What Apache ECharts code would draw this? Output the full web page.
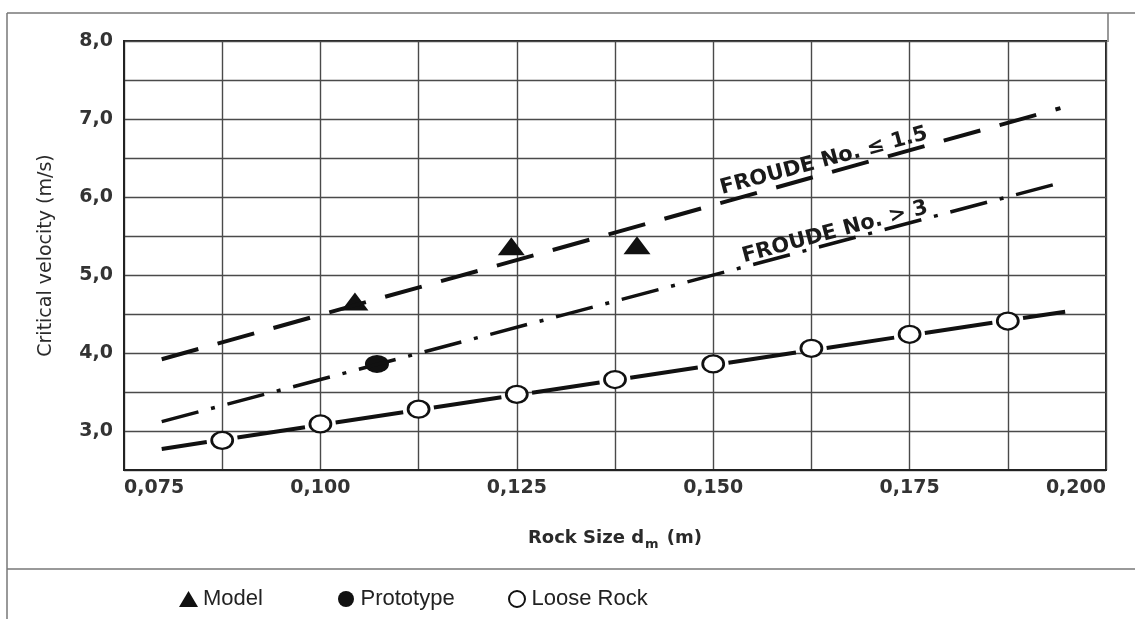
<!DOCTYPE html>
<html>
<head>
<meta charset="utf-8">
<script src="https://cdn.jsdelivr.net/npm/echarts@6/dist/echarts.min.js"></script>
<style>
  html, body { margin: 0; padding: 0; background: #fff; }
  #chart { width: 1135px; height: 619px; }
</style>
</head>
<body>
<div id="chart"></div>
<script>
// points (rock size in m, velocity in m/s)
var modelPts = [[0.1044, 4.66], [0.1243, 5.37], [0.1403, 5.38]];
var protoPts = [[0.1072, 3.86]];
var loosePts = [[0.0875, 2.88], [0.100, 3.09], [0.1125, 3.28], [0.125, 3.47], [0.1375, 3.66],
  [0.150, 3.86], [0.1625, 4.06], [0.175, 4.24], [0.1875, 4.41]];
// fitted lines: start and end point
var froudeLow = [[0.0798, 3.92], [0.1942, 7.14]];
var froudeHigh = [[0.0798, 3.12], [0.1945, 6.19]];
var looseFit = [[0.0798, 2.77], [0.1948, 4.53]];
// labels written along the two froude lines
var noteText = ['FROUDE No. ≤ 1.5', 'FROUDE No. > 3'];
var noteAt = [[0.1641, 6.46], [0.1655, 5.55]];
var legendNames = ['Model', 'Prototype', 'Loose Rock'];

var INK = '#111';
var BOLD = 'DejaVu Sans';

function chart () {
  const myChart = echarts.init(document.getElementById('chart'));

  const legendBase = {
    orient: 'horizontal',
    top: 583,
    itemWidth: 19,
    itemHeight: 16,
    selectedMode: false,
    textStyle: { fontFamily: 'Liberation Sans', fontSize: 22, color: '#222' }
  };

  const option = {
    backgroundColor: '#fff',
    animation: false,
    grid: {
      left: 124, right: 29, top: 41, bottom: 149,
      show: true, borderColor: '#222', borderWidth: 2
    },
    legend: [
      Object.assign({ data: [legendNames[0]], left: 174 }, legendBase),
      Object.assign({ data: [legendNames[1]], left: 333 }, legendBase),
      Object.assign({ data: [legendNames[2]], left: 503 }, legendBase)
    ],
    xAxis: {
      type: 'value',
      min: 0.075, max: 0.2, interval: 0.0125,
      name: 'Rock Size d{sub|m} (m)',
      nameLocation: 'middle',
      nameGap: 56,
      nameTextStyle: {
        fontFamily: BOLD, fontWeight: 'bold', fontSize: 18, color: '#2a2a2a',
        rich: { sub: { fontFamily: BOLD, fontWeight: 'bold', fontSize: 13, color: '#2a2a2a', padding: [12, 2, 0, 1] } }
      },
      axisLine: { show: true, lineStyle: { color: '#222', width: 2 } },
      axisTick: { show: false },
      splitLine: { show: true, lineStyle: { color: '#4a4a4a', width: 1.4 } },
      axisLabel: {
        margin: 9,
        fontFamily: BOLD, fontWeight: 'bold', fontSize: 19, color: '#333',
        alignMinLabel: 'left', alignMaxLabel: 'right',
        formatter: function (v) {
          var k = Math.round(v * 10000);
          return k % 250 === 0 ? (k / 10000).toFixed(3).replace('.', ',') : '';
        }
      }
    },
    yAxis: {
      type: 'value',
      min: 2.5, max: 8, interval: 0.5,
      name: 'Critical velocity (m/s)',
      nameLocation: 'middle',
      nameGap: 68,
      nameTextStyle: { fontFamily: 'DejaVu Sans', fontSize: 19, color: '#2a2a2a' },
      axisLine: { show: true, lineStyle: { color: '#222', width: 2 } },
      axisTick: { show: false },
      splitLine: { show: true, lineStyle: { color: '#4a4a4a', width: 1.4 } },
      axisLabel: {
        margin: 11,
        fontFamily: BOLD, fontWeight: 'bold', fontSize: 19, color: '#333',
        formatter: function (v) {
          return (Math.abs(v - Math.round(v)) < 1e-9 && v >= 3) ? v.toFixed(1).replace('.', ',') : '';
        }
      }
    },
    graphic: [
      // frame of the scanned figure
      { type: 'line', silent: true, shape: { x1: 7, y1: 13, x2: 1135, y2: 13 }, style: { stroke: '#777', lineWidth: 1.5 } },
      { type: 'line', silent: true, shape: { x1: 7, y1: 13, x2: 7, y2: 619 }, style: { stroke: '#777', lineWidth: 1.5 } },
      { type: 'line', silent: true, shape: { x1: 1108, y1: 13, x2: 1108, y2: 42 }, style: { stroke: '#777', lineWidth: 1.5 } },
      { type: 'line', silent: true, shape: { x1: 7, y1: 569, x2: 1135, y2: 569 }, style: { stroke: '#777', lineWidth: 1.5 } }
    ],
    series: [{
      id: 'froudeLow',
      type: 'line',
      data: froudeLow,
      symbol: 'none',
      silent: true,
      lineStyle: { color: INK, width: 4, type: [38, 20] }
    }, {
      id: 'froudeHigh',
      type: 'line',
      data: froudeHigh,
      symbol: 'none',
      silent: true,
      lineStyle: { color: INK, width: 3.5, type: [38, 13, 4, 13] }
    }, {
      id: 'looseFit',
      type: 'line',
      data: looseFit,
      symbol: 'none',
      silent: true,
      lineStyle: { color: INK, width: 4 }
    }, {
      id: 'notes',
      type: 'scatter',
      symbolSize: 0,
      silent: true,
      itemStyle: { opacity: 1 },
      data: noteAt.map(function (c, i) { return { value: c, name: noteText[i] }; }),
      label: {
        show: true,
        position: 'inside',
        rotate: 15,
        formatter: '{b}',
        fontFamily: BOLD, fontWeight: 'bold', fontSize: 21, color: '#1a1a1a',
        textBorderWidth: 0
      }
    }, {
      name: 'Loose Rock',
      type: 'scatter',
      data: loosePts,
      symbol: 'circle',
      symbolSize: [21, 17],
      itemStyle: { color: '#fff', borderColor: INK, borderWidth: 2.5, opacity: 1 }
    }, {
      name: 'Model',
      type: 'scatter',
      data: modelPts,
      symbol: 'triangle',
      symbolSize: [27, 18],
      itemStyle: { color: INK, opacity: 1 }
    }, {
      name: 'Prototype',
      type: 'scatter',
      data: protoPts,
      symbol: 'circle',
      symbolSize: [24, 18],
      itemStyle: { color: INK, opacity: 1 }
    }]
  };
  myChart.setOption(option);

  // the loose rock line breaks around each circle: set dash period to the circle spacing
  var a = myChart.convertToPixel({ gridIndex: 0 }, looseFit[0]);
  var b = myChart.convertToPixel({ gridIndex: 0 }, looseFit[1]);
  var ux = b[0] - a[0], uy = b[1] - a[1];
  var len = Math.sqrt(ux * ux + uy * uy);
  ux /= len; uy /= len;
  var proj = loosePts.map(function (p) {
    var q = myChart.convertToPixel({ gridIndex: 0 }, p);
    return (q[0] - a[0]) * ux + (q[1] - a[1]) * uy;
  });
  var period = (proj[proj.length - 1] - proj[0]) / (proj.length - 1);
  var gap = 31;
  var dash = period - gap;
  var offset = ((dash + gap / 2 - proj[0]) % period + period) % period;
  myChart.setOption({ series: [{ id: 'looseFit', lineStyle: { type: [dash, gap], dashOffset: offset } }] });

  window.addEventListener('resize', function () {
    myChart.resize();
  });
}
chart();
</script>
</body>
</html>
